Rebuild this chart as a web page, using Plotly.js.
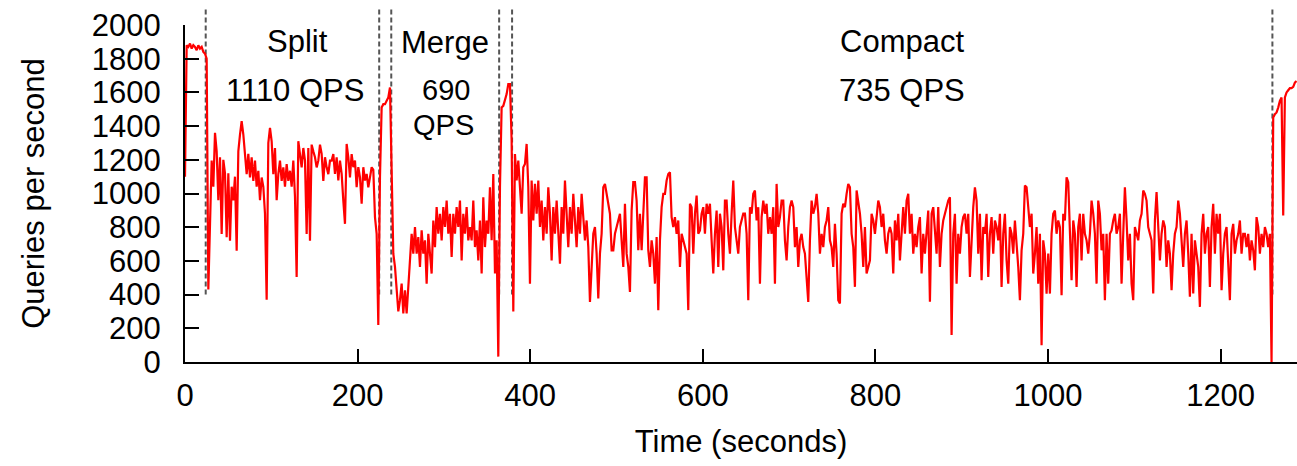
<!DOCTYPE html>
<html>
<head>
<meta charset="utf-8">
<script src="https://cdn.plot.ly/plotly-3.0.1.min.js"></script>
<style>html,body{margin:0;padding:0;background:#fff;}#chart{width:1297px;height:466px;}</style>
</head>
<body>
<div id="chart"></div>
<script>
// Sampling interval of the QPS trace (seconds)
const sampleStep = 1.931;

// Queries per second
const qps = [
1100,1880,1870,1890,1860,1880,1870,1850,1880,1860,
1870,1840,1830,1800,430,760,1195,1040,1360,1250,
960,1215,760,1200,1120,740,1120,720,1040,960,
1100,660,1250,1350,1430,1350,1215,1115,1235,1095,
1215,1075,1195,1040,1135,960,1095,1040,880,370,
1300,1390,1310,1115,1270,960,1115,1195,1075,1155,
1040,1175,1075,1135,1040,1195,980,505,1310,1215,
1155,1270,1195,760,1270,720,1290,1250,1215,1155,
1195,1290,1235,1075,1215,1155,1115,1195,
1195,1234,1116,1215,1077,1195,1116,958,820,1294,
1215,1096,1234,1156,1195,1037,1156,1096,939,1156,
1077,1116,1037,1096,1156,1140,860,761,219,1100,
1510,1530,1530,1550,1570,1629,1100,643,564,406,
300,367,465,288,426,288,465,623,761,643,
801,643,741,564,781,643,722,465,761,643,
525,840,682,919,761,880,722,919,801,958,
761,880,623,880,761,919,801,958,603,880,
761,919,722,801,
722,958,682,781,603,840,525,978,682,840,
761,1037,722,1116,525,722,32,1037,1510,1520,
1550,1590,1649,1649,1313,300,1234,1077,1195,1037,
880,1156,1175,1294,1037,465,1077,840,1057,880,
1077,801,958,722,919,761,1037,880,603,919,
761,958,801,584,919,761,1077,840,682,919,
761,998,801,682,919,761,998,880,722,840,
682,357,584,761,801,643,377,643,761,1037,
1057,998,919,880,
663,663,761,801,840,880,722,564,939,643,
564,416,899,1067,1067,958,663,880,663,939,
1096,1096,663,564,722,643,465,741,308,722,
919,998,998,1077,1116,1126,860,801,860,761,
840,564,761,722,682,643,308,939,919,643,
880,988,761,781,880,919,761,939,880,939,
722,525,761,899,564,880,801,544,958,958,
761,643,880,1077,801,722,643,801,840,880,
880,761,367,919,
880,998,1018,840,919,465,860,958,880,939,
761,860,761,919,465,1057,801,860,958,958,
722,603,801,919,958,919,682,801,564,722,
761,682,643,465,357,722,958,880,919,998,
880,643,761,682,801,840,919,722,682,564,
820,643,367,347,880,939,919,998,1057,1037,
761,682,446,1018,958,880,761,564,801,525,
564,603,880,840,761,880,958,919,801,880,
722,643,761,801,
761,525,840,722,880,603,801,919,761,958,
998,761,880,643,761,682,801,860,525,761,
643,801,899,357,880,919,801,643,919,564,
761,840,880,919,958,978,160,761,880,465,
761,643,801,860,880,761,880,505,761,919,
1037,958,643,880,485,801,761,880,505,761,
860,643,840,801,722,880,446,761,880,603,
465,801,761,643,840,722,564,367,663,761,
1047,1037,919,801,
880,525,643,801,465,761,100,722,643,406,
643,406,761,880,899,761,840,801,396,880,
840,1096,1067,801,485,840,761,446,801,880,
603,880,761,722,643,761,958,880,761,465,
958,880,663,761,367,761,465,761,781,840,
880,761,801,880,465,761,1037,840,603,761,
465,367,801,761,722,840,880,1018,998,958,
801,761,722,406,840,1008,761,603,761,840,
801,564,722,643,
426,643,761,801,958,880,722,564,761,840,
643,387,761,406,722,643,564,327,761,880,
643,761,801,446,801,939,643,880,761,880,
426,643,761,801,564,367,761,820,643,722,
761,840,643,761,761,682,761,603,722,663,
544,860,801,643,761,682,801,761,682,761,
0,1451,1471,1481,1510,1550,1570,870,1570,1600,
1613,1625,1625,1633,1658,1668
];

// Phase boundaries (seconds), drawn as dashed lines
const phaseBoundaries = [24, 225, 239, 364, 379, 1260];
const boundaryFloorQps = 400;

// Phase labels: [text, time, qps, font size]
const phaseLabels = [
  ["Split", 130, 1900, 31],
  ["1110 QPS", 128, 1609, 31],
  ["Merge", 301, 1897, 31],
  ["690", 302, 1614, 29],
  ["QPS", 300, 1405, 29],
  ["Compact", 831, 1900, 31],
  ["735 QPS", 831, 1609, 31]
];

const xTicks = [0, 200, 400, 600, 800, 1000, 1200];
const yTicks = [0, 200, 400, 600, 800, 1000, 1200, 1400, 1600, 1800, 2000];
const xMax = 1288.5, yMax = 2000;

const times = qps.map((_, i) => i * sampleStep);

const FONT = '"Liberation Sans", Arial, sans-serif';
const FS = 31;

const trace = {
  x: times, y: qps, type: 'scatter', mode: 'lines',
  line: {color: '#ff0000', width: 2.2}, hoverinfo: 'skip'
};

const shapes = phaseBoundaries.map(t => ({
  type: 'line', xref: 'x', yref: 'paper',
  x0: t, x1: t, y0: boundaryFloorQps / yMax, y1: 1.053,
  line: {color: '#555555', width: 2, dash: '5px,3px'}, layer: 'below'
}));

const annotations = phaseLabels.map(([text, x, y, size]) => ({
  text, x, y, xref: 'x', yref: 'y', showarrow: false,
  xanchor: 'center', yanchor: 'middle',
  font: {family: FONT, size: size, color: '#000'}
}));

const axisCommon = {
  showgrid: false, zeroline: false, showline: true, linecolor: '#000', linewidth: 2,
  ticks: 'inside', tickwidth: 2, tickcolor: '#000', mirror: false, fixedrange: true,
  tickfont: {family: FONT, size: FS, color: '#000'}
};

const layout = {
  width: 1297, height: 466,
  margin: {l: 185, r: 0, t: 25, b: 104, pad: 0},
  paper_bgcolor: '#fff', plot_bgcolor: '#fff',
  showlegend: false,
  font: {family: FONT, size: FS, color: '#000'},
  xaxis: Object.assign({}, axisCommon, {
    range: [0, xMax], tickmode: 'array', tickvals: xTicks, ticktext: xTicks.map(String),
    ticklen: 13, ticklabelstandoff: 5,
    title: {text: 'Time (seconds)', font: {family: FONT, size: FS, color: '#000'}, standoff: 18}
  }),
  yaxis: Object.assign({}, axisCommon, {
    range: [0, yMax], tickmode: 'array', tickvals: yTicks, ticktext: yTicks.map(String),
    ticklen: 14, ticklabelstandoff: 16,
    title: {text: 'Queries per second', font: {family: FONT, size: FS, color: '#000'}, standoff: 38}
  }),
  shapes, annotations
};

Plotly.newPlot('chart', [trace], layout, {displayModeBar: false, staticPlot: true});
</script>
</body>
</html>
